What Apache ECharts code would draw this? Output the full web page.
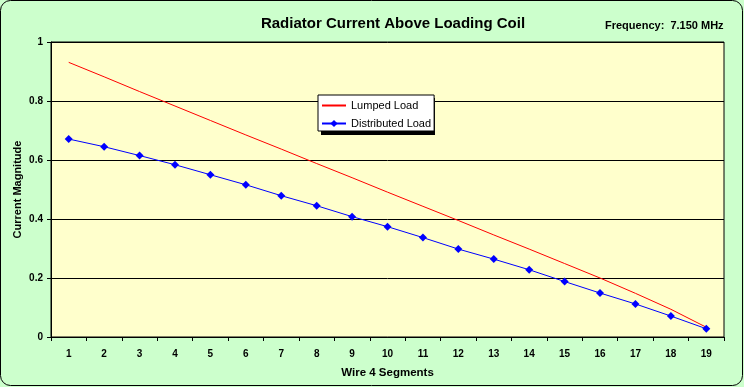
<!DOCTYPE html>
<html><head><meta charset="utf-8">
<script src="https://cdn.jsdelivr.net/npm/echarts@6/dist/echarts.min.js"></script>
<style>html,body{margin:0;padding:0;background:#fff}#c{width:744px;height:387px}</style>
</head><body><div id="c"></div>
<script>
var categories = ['1','2','3','4','5','6','7','8','9','10','11','12','13','14','15','16','17','18','19'];
var lumpedLoad = [0.931,0.882,0.832,0.783,0.734,0.685,0.637,0.588,0.540,0.491,0.443,0.395,0.346,0.298,0.249,0.200,0.148,0.094,0.033];
var distributedLoad = [0.671,0.645,0.615,0.584,0.550,0.516,0.479,0.445,0.408,0.374,0.337,0.298,0.264,0.228,0.188,0.149,0.112,0.071,0.028];
var yTicks = [0,0.2,0.4,0.6,0.8,1];

var chart = echarts.init(document.getElementById('c'), null, {renderer:'canvas'});
var F = '"Liberation Sans", Arial, sans-serif';
chart.setOption({
  animation:false,
  backgroundColor:'#CCFFCC',
  graphic:[
    {type:'rect', shape:{x:0.5,y:0.5,width:742,height:385,r:10}, style:{fill:'none',stroke:'#000',lineWidth:1}, z:100},
    {type:'rect', shape:{x:321,y:98,width:114,height:37}, style:{fill:'#000'}, z:1}
  ],
  title:[
    {text:'Radiator Current Above Loading Coil', left:388, top:11, textAlign:'center',
     textStyle:{fontFamily:F,fontSize:15,fontWeight:'bold',color:'#000'}},
    {text:'Frequency:  7.150 MHz', left:600, top:15,
     textStyle:{fontFamily:F,fontSize:11,fontWeight:'bold',color:'#000'}}
  ],
  legend:{
    orient:'vertical', left:318, top:95, itemGap:7, itemWidth:24, itemHeight:9,
    padding:[5,3,2,3], width:108,
    backgroundColor:'#fff', borderColor:'#000', borderWidth:1,
    textStyle:{fontFamily:F,fontSize:11,color:'#000'},
    data:[{name:'Lumped Load', itemStyle:{opacity:0}},'Distributed Load']
  },
  grid:{left:51,right:20,top:42,bottom:50,show:true,backgroundColor:'#FFFFCC',borderColor:'#000',borderWidth:1},
  xAxis:{
    type:'category', data:categories, boundaryGap:true,
    name:'Wire 4 Segments', nameLocation:'middle', nameGap:30, nameMoveOverlap:false,
    nameTextStyle:{fontFamily:F,fontSize:11.5,fontWeight:'bold',color:'#000'},
    axisLine:{lineStyle:{color:'#000',width:1}},
    axisTick:{show:true,alignWithLabel:false,length:4,lineStyle:{color:'#000'}},
    axisLabel:{fontFamily:F,fontSize:10,fontWeight:'bold',color:'#000',margin:12,interval:0},
    splitLine:{show:false}
  },
  yAxis:{
    type:'value', min:0, max:1, interval:0.2,
    name:'Current Magnitude', nameLocation:'middle', nameGap:28, nameRotate:90, nameMoveOverlap:false,
    nameTextStyle:{fontFamily:F,fontSize:11,fontWeight:'bold',color:'#000'},
    axisLine:{show:true,lineStyle:{color:'#000',width:1}},
    axisTick:{show:true,length:4,lineStyle:{color:'#000'}},
    axisLabel:{fontFamily:F,fontSize:10,fontWeight:'bold',color:'#000',margin:8,
      formatter:function(v){return String(Math.round(v*10)/10);}},
    splitLine:{show:true,lineStyle:{color:'#000',width:1}}
  },
  series:[
    {name:'Lumped Load', type:'line', data:lumpedLoad, showSymbol:false, symbol:'none',
     lineStyle:{color:'#FF0000',width:1}, itemStyle:{color:'#FF0000'}},
    {name:'Distributed Load', type:'line', data:distributedLoad, symbol:'diamond', symbolSize:8,
     lineStyle:{color:'#0000FF',width:1}, itemStyle:{color:'#0000FF'}}
  ]
});
</script></body></html>
